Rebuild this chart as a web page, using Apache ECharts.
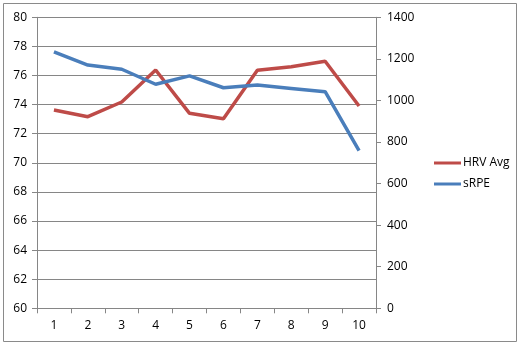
<!DOCTYPE html>
<html>
<head>
<meta charset="utf-8">
<script src="https://cdn.jsdelivr.net/npm/echarts@6/dist/echarts.min.js"></script>
<style>
html,body{margin:0;padding:0;background:#fff;}
#c{width:522px;height:345px;}
</style>
</head>
<body>
<div id="c"></div>
<script>
const categories = ['1','2','3','4','5','6','7','8','9','10'];
const hrvAvg = [73.63, 73.17, 74.18, 76.38, 73.4, 73.03, 76.36, 76.6, 76.98, 73.9];
const sRPE = [1234, 1170, 1150, 1078, 1118, 1061, 1074, 1058, 1042, 758];
const seriesNames = ['HRV Avg', 'sRPE'];

const chart = echarts.init(document.getElementById('c'), null, {renderer: 'canvas'});
const axisGray = '#868686';
const font = 'Open Sans';
chart.setOption({
  animation: false,
  backgroundColor: '#fff',
  textStyle: {fontFamily: font},
  grid: {left: 37, right: 146, top: 17.3, bottom: 36.7, containLabel: false},
  legend: {
    orient: 'vertical',
    left: 429, top: 152,
    icon: 'rect',
    itemWidth: 27, itemHeight: 3,
    itemGap: 9,
    textStyle: {fontSize: 12, color: '#000', fontFamily: font, padding: [0, 0, 0, -3]},
    data: seriesNames
  },
  xAxis: {
    type: 'category',
    data: categories,
    boundaryGap: true,
    axisLine: {lineStyle: {color: axisGray, width: 1}},
    axisTick: {show: true, alignWithLabel: false, length: 5, lineStyle: {color: axisGray}},
    axisLabel: {color: '#000', fontSize: 12, margin: 11, fontFamily: font},
    splitLine: {show: false}
  },
  yAxis: [{
    type: 'value', min: 60, max: 80, interval: 2,
    axisLine: {show: true, lineStyle: {color: axisGray}},
    axisTick: {show: true, length: 5, lineStyle: {color: axisGray}},
    axisLabel: {color: '#000', fontSize: 12, margin: 10, fontFamily: font},
    splitLine: {show: true, lineStyle: {color: axisGray, width: 1}}
  }, {
    type: 'value', min: 0, max: 1400, interval: 200, position: 'right',
    axisLine: {show: true, lineStyle: {color: axisGray}},
    axisTick: {show: true, length: 5, lineStyle: {color: axisGray}},
    axisLabel: {color: '#000', fontSize: 12, margin: 11, fontFamily: font,
      formatter: function (v) { return String(v); }},
    splitLine: {show: false}
  }],
  series: [{
    name: seriesNames[0], type: 'line', yAxisIndex: 0, data: hrvAvg,
    showSymbol: false, symbol: 'none',
    lineStyle: {color: '#BE4B48', width: 3.5},
    itemStyle: {color: '#BE4B48'}
  }, {
    name: seriesNames[1], type: 'line', yAxisIndex: 1, data: sRPE,
    showSymbol: false, symbol: 'none',
    lineStyle: {color: '#4A7EBB', width: 3.5},
    itemStyle: {color: '#4A7EBB'}
  }],
  graphic: [{
    type: 'rect', silent: true,
    shape: {x: 3.5, y: 3.5, width: 513, height: 338},
    style: {fill: 'none', stroke: '#8a8a8a', lineWidth: 1}
  }]
});
</script>
</body>
</html>
